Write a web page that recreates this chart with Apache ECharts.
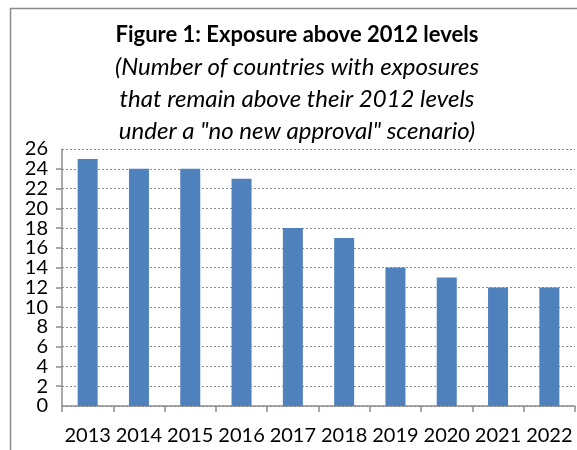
<!DOCTYPE html>
<html>
<head>
<meta charset="utf-8">
<script src="https://cdn.jsdelivr.net/npm/echarts@6/dist/echarts.min.js"></script>
<style>
  html, body { margin: 0; padding: 0; background: #fff; }
  #chart { width: 577px; height: 450px; }
</style>
</head>
<body>
<div id="chart"></div>
<script>
const years = ['2013', '2014', '2015', '2016', '2017', '2018', '2019', '2020', '2021', '2022'];
const countries = [25, 24, 24, 23, 18, 17, 14, 13, 12, 12];
const titleText = 'Figure 1: Exposure above 2012 levels';
const subtitleText = '(Number of countries with exposures\nthat remain above their 2012 levels\nunder a "no new approval" scenario)';

const FONT = 'Lato, "Open Sans", sans-serif';
const yLabelStyle = { fontFamily: FONT, fontSize: 20, color: '#000', margin: 14 };

let option = {
    animation: false,
    title: {
        text: titleText,
        subtext: subtitleText,
        left: 292,
        top: 19,
        textAlign: 'center',
        itemGap: 5,
        textStyle: { fontFamily: FONT, fontSize: 22, fontWeight: 'bold', color: '#000' },
        subtextStyle: { fontFamily: FONT, fontSize: 24, fontStyle: 'italic', color: '#000', lineHeight: 32, align: 'center' }
    },
    graphic: [
        { type: 'polyline', shape: { points: [[10.5, 450], [10.5, 8.5], [577, 8.5]] }, style: { stroke: '#8c8c8c', lineWidth: 1.5, fill: null } }
    ],
    grid: { left: 62, right: 2, top: 149, bottom: 44 },
    xAxis: {
        type: 'category',
        data: years,
        axisLine: { lineStyle: { color: '#8c8c8c', width: 1.5 } },
        axisTick: { show: true, length: 6, lineStyle: { color: '#8c8c8c', width: 1.5 } },
        axisLabel: { interval: 0, hideOverlap: false, fontFamily: FONT, fontSize: 20, color: '#000', margin: 20 }
    },
    yAxis: [{
        type: 'value',
        min: 0,
        max: 26,
        interval: 2,
        axisLine: { show: true, lineStyle: { color: '#8c8c8c', width: 1.5 } },
        axisTick: { show: true, length: 6, lineStyle: { color: '#8c8c8c', width: 1.5 } },
        axisLabel: Object.assign({ showMinLabel: false, showMaxLabel: false }, yLabelStyle),
        splitLine: { lineStyle: { color: '#8c8c8c', type: [2, 2], width: 1 } }
    }, {
        // only the end labels (0 and 26), which the first axis drops as overlapping
        type: 'value',
        position: 'left',
        min: 0,
        max: 26,
        interval: 26,
        axisLine: { show: false },
        axisTick: { show: false },
        splitLine: { show: false },
        axisLabel: yLabelStyle
    }],
    series: [{
        type: 'bar',
        data: countries,
        barWidth: '39%',
        itemStyle: { color: '#4F81BD' }
    }]
};

echarts.init(document.getElementById('chart')).setOption(option);
</script>
</body>
</html>
